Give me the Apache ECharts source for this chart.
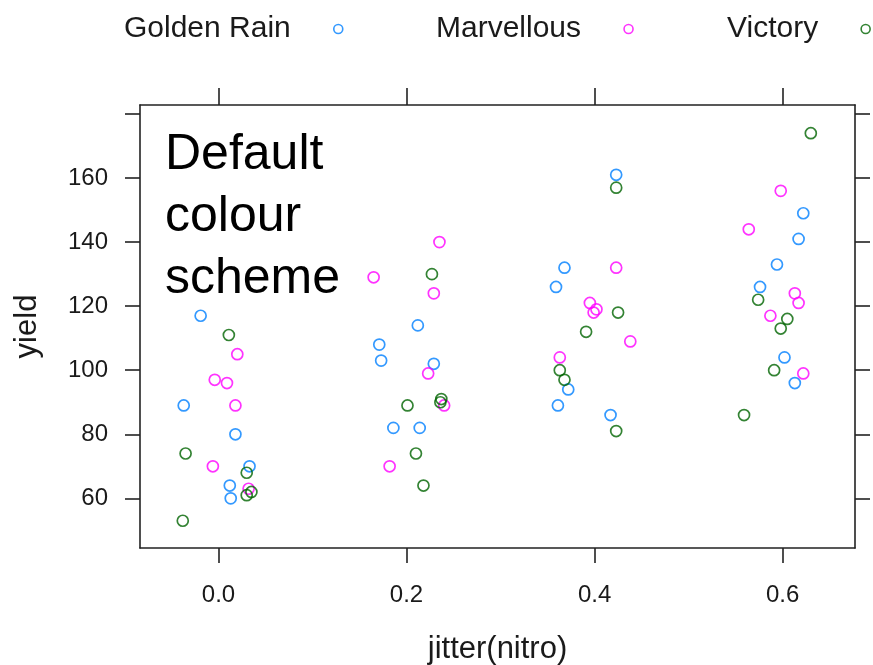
<!DOCTYPE html>
<html>
<head>
<meta charset="utf-8">
<title>Oats yield by nitrogen</title>
<script src="https://cdn.jsdelivr.net/npm/echarts@6/dist/echarts.min.js"></script>
<style>
  html, body { margin: 0; padding: 0; background: #fff; }
  #chart { width: 873px; height: 665px; }
</style>
</head>
<body>
<div id="chart"></div>
<script>
// Varieties in legend order
const varieties = ['Golden Rain', 'Marvellous', 'Victory'];
const varietyColors = ['#0080ff', '#ff00ff', '#006400'];

// Jittered nitrogen level (blocks I-VI for 0.0, 0.2, 0.4, 0.6 cwt) and yield
const goldenRainX = [-0.019, 0.033, 0.013, 0.012, 0.018, -0.037,
  0.212, 0.171, 0.229, 0.173, 0.186, 0.214,
  0.423, 0.359, 0.361, 0.368, 0.372, 0.417,
  0.617, 0.622, 0.613, 0.594, 0.576, 0.602];
const goldenRainYield = [117, 70, 60, 64, 80, 89,
  114, 108, 102, 103, 82, 82,
  161, 126, 89, 132, 94, 86,
  141, 149, 96, 133, 126, 104];

const marvellousX = [0.020, 0.009, 0.018, -0.006, 0.032, -0.004,
  0.235, 0.229, 0.165, 0.240, 0.182, 0.223,
  0.399, 0.395, 0.423, 0.363, 0.438, 0.402,
  0.598, 0.564, 0.613, 0.587, 0.622, 0.617];
const marvellousYield = [105, 96, 89, 70, 63, 97,
  140, 124, 129, 89, 70, 99,
  118, 121, 132, 104, 109, 119,
  156, 144, 124, 117, 99, 121];

const victoryX = [0.011, 0.030, 0.030, -0.035, 0.035, -0.038,
  0.227, 0.237, 0.218, 0.201, 0.236, 0.210,
  0.423, 0.368, 0.391, 0.423, 0.363, 0.425,
  0.630, 0.591, 0.559, 0.574, 0.605, 0.598];
const victoryYield = [111, 61, 68, 74, 62, 53,
  130, 91, 64, 89, 90, 74,
  157, 97, 112, 81, 100, 118,
  174, 100, 86, 122, 116, 113];

// Axis ticks and labels
const xTicks = [0, 0.2, 0.4, 0.6];
const yTicks = [60, 80, 100, 120, 140, 160, 180];
const yLabels = [60, 80, 100, 120, 140, 160];

const xs = [goldenRainX, marvellousX, victoryX];
const ys = [goldenRainYield, marvellousYield, victoryYield];

const FONT = '"Liberation Sans", Arial, sans-serif';
const INK = '#1a1a1a';
const FRAME = '#222';

function pairs(xv, yv) {
  return xv.map((x, i) => [x, yv[i]]);
}

const lineStyle = { color: FRAME, width: 1.6 };
const tickStyle = { show: true, inside: false, length: 15, lineStyle: { color: FRAME, width: 1.6 } };

const xRange = { min: -0.0835, max: 0.677 };
const yRange = { min: 44.5, max: 182.8 };

// Left edge of each legend entry; the key sits to the right of its name
const legendLeft = [124, 436, 727];

const chart = echarts.init(document.getElementById('chart'), null, { renderer: 'canvas' });

chart.setOption({
  animation: false,
  backgroundColor: '#fff',
  textStyle: { fontFamily: FONT },
  grid: {
    left: 140, right: 18, top: 105, bottom: 117,
    containLabel: false, outerBoundsMode: 'none'
  },
  legend: varieties.map((name, i) => ({
    top: 14,
    left: legendLeft[i],
    align: 'right',
    itemWidth: 9,
    itemHeight: 9,
    padding: 0,
    selectedMode: false,
    textStyle: {
      fontFamily: FONT, fontSize: 30, color: INK,
      padding: [0, 38, 0, 0]
    },
    data: [{
      name: name,
      icon: 'circle',
      itemStyle: { color: '#fff', borderColor: varietyColors[i], borderWidth: 1.6 }
    }]
  })),
  xAxis: [
    {
      type: 'value', position: 'bottom', ...xRange,
      name: 'jitter(nitro)', nameLocation: 'middle', nameGap: 86,
      nameTextStyle: { fontFamily: FONT, fontSize: 31, color: INK },
      axisLine: { show: true, onZero: false, lineStyle },
      axisTick: { ...tickStyle, customValues: xTicks },
      axisLabel: {
        show: true, customValues: xTicks, margin: 35,
        fontFamily: FONT, fontSize: 24, color: INK,
        formatter: v => v.toFixed(1)
      },
      splitLine: { show: false }
    },
    {
      type: 'value', position: 'top', ...xRange,
      axisLine: { show: true, onZero: false, lineStyle },
      axisTick: { ...tickStyle, length: 17, customValues: xTicks },
      axisLabel: { show: false },
      splitLine: { show: false }
    }
  ],
  yAxis: [
    {
      type: 'value', position: 'left', ...yRange,
      name: 'yield', nameLocation: 'middle', nameGap: 97, nameRotate: 90,
      nameTextStyle: { fontFamily: FONT, fontSize: 31, color: INK },
      axisLine: { show: true, onZero: false, lineStyle },
      axisTick: { ...tickStyle, customValues: yTicks },
      axisLabel: {
        show: true, customValues: yLabels, margin: 32,
        fontFamily: FONT, fontSize: 24, color: INK
      },
      splitLine: { show: false }
    },
    {
      type: 'value', position: 'right', ...yRange,
      axisLine: { show: true, onZero: false, lineStyle },
      axisTick: { ...tickStyle, customValues: yTicks },
      axisLabel: { show: false },
      splitLine: { show: false }
    }
  ],
  graphic: [{
    type: 'text',
    left: 165,
    top: 124,
    z: 10,
    style: {
      text: 'Default\ncolour\nscheme',
      fontFamily: FONT,
      fontSize: 50,
      lineHeight: 62,
      fill: '#000'
    }
  }],
  series: varieties.map((name, i) => ({
    name: name,
    type: 'scatter',
    xAxisIndex: 0,
    yAxisIndex: 0,
    symbol: 'circle',
    symbolSize: 11,
    itemStyle: {
      color: 'rgba(255,255,255,0)',
      borderColor: varietyColors[i],
      borderWidth: 1.7
    },
    data: pairs(xs[i], ys[i])
  }))
});
</script>
</body>
</html>
